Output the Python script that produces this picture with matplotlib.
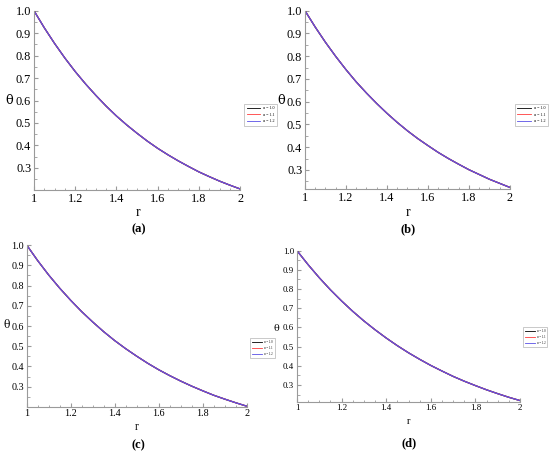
import numpy as np
import matplotlib
matplotlib.use("Agg")
import matplotlib.pyplot as plt
from matplotlib.ticker import MultipleLocator

plt.rcParams['font.family'] = ['Liberation Serif', 'DejaVu Serif']

# radial coordinate
r = [1.00, 1.05, 1.10, 1.15, 1.20, 1.25, 1.30, 1.35, 1.40, 1.45, 1.50,
     1.55, 1.60, 1.65, 1.70, 1.75, 1.80, 1.85, 1.90, 1.95, 2.00]

# theta profiles (the three alpha curves overlap)
theta_a = [1.000, 0.924, 0.854, 0.789, 0.729, 0.674, 0.623, 0.575, 0.531, 0.491, 0.454,
           0.419, 0.387, 0.358, 0.331, 0.306, 0.282, 0.261, 0.241, 0.223, 0.206]
theta_b = [1.000, 0.928, 0.861, 0.799, 0.741, 0.687, 0.638, 0.592, 0.549, 0.509, 0.472,
           0.438, 0.407, 0.377, 0.350, 0.325, 0.301, 0.280, 0.259, 0.241, 0.223]
theta_c = [1.000, 0.923, 0.852, 0.787, 0.727, 0.671, 0.620, 0.572, 0.528, 0.488, 0.451,
           0.416, 0.384, 0.355, 0.328, 0.303, 0.280, 0.258, 0.239, 0.221, 0.204]
theta_d = [1.000, 0.927, 0.859, 0.796, 0.738, 0.684, 0.634, 0.588, 0.545, 0.505, 0.468,
           0.434, 0.402, 0.373, 0.345, 0.320, 0.297, 0.275, 0.255, 0.236, 0.219]

alphas = ["α = 1.0", "α = 1.1", "α = 1.2"]
line_colors = ["black", "#ff3b3b", "#5a50e6"]

panels = [
    # data, axes rect, ylim bottom, legend anchor, legend size, tick size, theta pos, r pos, letter pos
    (theta_a, [0.0618, 0.5824, 0.375, 0.394], 0.2015, (0.440, 0.777), 3.0, 8.8,
     (0.017, 0.780), (0.250, 0.532), ("(a)", 0.253, 0.497)),
    (theta_b, [0.5545, 0.5840, 0.3727, 0.3925], 0.215, (0.932, 0.777), 3.0, 8.8,
     (0.512, 0.780), (0.742, 0.532), ("(b)", 0.742, 0.497)),
    (theta_c, [0.0485, 0.1062, 0.400, 0.3553], 0.2015, (0.452, 0.260), 2.2, 7.3,
     (0.012, 0.285), (0.249, 0.062), ("(c)", 0.251, 0.022)),
    (theta_d, [0.5400, 0.1171, 0.4055, 0.3319], 0.213, (0.948, 0.284), 2.2, 6.4,
     (0.503, 0.279), (0.743, 0.073), ("(d)", 0.744, 0.026)),
]

fig = plt.figure(figsize=(5.5, 4.55), dpi=100)

for data, rect, ybot, leg_pos, leg_fs, tick_fs, th_pos, r_pos, letter in panels:
    ax = fig.add_axes(rect)
    for lab, col in zip(alphas, line_colors):
        ax.plot(r, data, color=col, lw=0.9, label=lab)
    ax.set_xlim(1, 2)
    ax.set_ylim(ybot, 1.0)
    ax.xaxis.set_major_locator(MultipleLocator(0.2))
    ax.xaxis.set_minor_locator(MultipleLocator(0.05))
    ax.yaxis.set_major_locator(MultipleLocator(0.1))
    ax.yaxis.set_minor_locator(MultipleLocator(0.05))
    ax.xaxis.set_major_formatter(lambda v, p: "%g" % round(v, 1))
    ax.yaxis.set_major_formatter(lambda v, p: "%.1f" % v)
    for s in ["top", "right"]:
        ax.spines[s].set_visible(False)
    for s in ["left", "bottom"]:
        ax.spines[s].set_color("#9a9a9a")
        ax.spines[s].set_linewidth(0.8)
    ax.tick_params(which="both", direction="in", color="#9a9a9a", labelsize=tick_fs, pad=2)
    ax.tick_params(which="major", length=3)
    ax.tick_params(which="minor", length=1.8)
    leg = ax.legend(loc="upper left", bbox_to_anchor=leg_pos, bbox_transform=fig.transFigure,
                    fontsize=leg_fs, frameon=True, fancybox=False, edgecolor="#b0b0b0",
                    handlelength=3.2, borderpad=0.6, labelspacing=0.6, handletextpad=0.8)
    leg.get_frame().set_linewidth(0.6)
    for h in leg.get_lines():
        h.set_linewidth(0.6)
    fig.text(th_pos[0], th_pos[1], "θ", fontsize=tick_fs + 0.5, ha="center", va="center",
             family=["DejaVu Serif"])
    fig.text(r_pos[0], r_pos[1], "r", fontsize=tick_fs + 1, ha="center", va="center")
    fig.text(letter[1], letter[2], letter[0], fontsize=9, fontweight="bold",
             ha="center", va="center")

fig.savefig("out.png", dpi=100)
